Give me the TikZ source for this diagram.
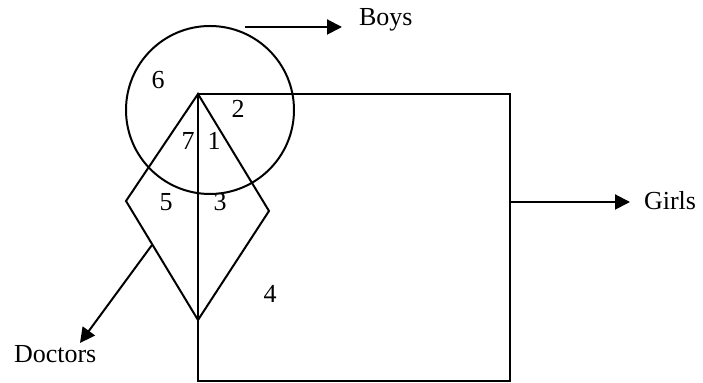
\documentclass[tikz,border=0pt]{standalone}
\usepackage{fontspec}
\setmainfont{Liberation Serif}
\usetikzlibrary{arrows.meta,positioning}

\begin{document}
\begin{tikzpicture}[
    x=0.5pt,
    y=-0.5pt,
    line width=1pt,
    outline/.style={draw=black},
    region/.style={inner sep=0pt, font=\fontsize{13}{15}\selectfont},
    label text/.style={inner sep=0pt, anchor=base west, font=\fontsize{13}{15}\selectfont},
    pointer/.style={-{Triangle[length=7.5pt,width=7.5pt]}}
]
    \useasboundingbox (0,0) rectangle (703,383);

    % corners of the shapes
    \coordinate (apex) at (198,94);
    \coordinate (left) at (126,201);
    \coordinate (right) at (269,211);
    \coordinate (tip) at (198,320);
    \coordinate (sqtr) at (510,94);
    \coordinate (sqbr) at (510,381);
    \coordinate (sqbl) at (198,381);

    % boys, girls, doctors
    \draw[outline] (210,110) circle [radius=84];
    \draw[outline] (apex) -- (sqtr) -- (sqbr) -- (sqbl) -- cycle;
    \draw[outline] (apex) -- (left) -- (tip) -- (right) -- cycle;

    % region numbers
    \node[region] (r6) at (158,80) {6};
    \node[region] (r2) at (238,109) {2};
    \node[region] (r7) at (188,141) {7};
    \node[region] (r1) at (214,141) {1};
    \node[region] (r5) at (166,202) {5};
    \node[region] (r3) at (220,202) {3};
    \node[region] (r4) at (270,294) {4};

    % set names
    \node[label text] (boys) at (358,26) {Boys};
    \node[label text] (girls) at (643,210) {Girls};
    \node[label text] (doctors) at (13,363) {Doctors};

    \coordinate (boysfrom) at (245,27);
    \coordinate (boysto) at (342,27);
    \coordinate (girlsfrom) at (510,202);
    \coordinate (girlsto) at (630,202);
    \coordinate (docfrom) at (152,245);
    \coordinate (docto) at (80,343);

    \draw[pointer] (boysfrom) -- (boysto);
    \draw[pointer] (girlsfrom) -- (girlsto);
    \draw[pointer] (docfrom) -- (docto);
\end{tikzpicture}
\end{document}
